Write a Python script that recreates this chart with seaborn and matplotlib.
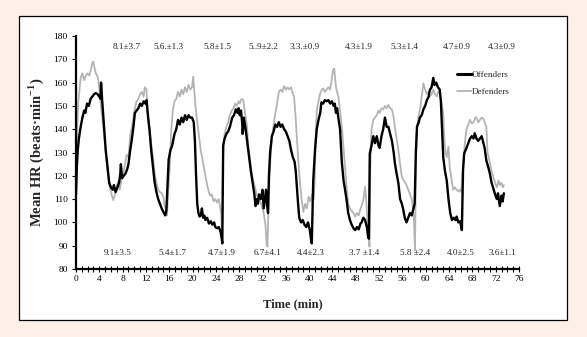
import matplotlib
matplotlib.use("Agg")
import matplotlib.pyplot as plt
import seaborn as sns
import pandas as pd
from matplotlib.patches import Rectangle
from matplotlib.lines import Line2D
from matplotlib.ticker import MultipleLocator

# ---------------- data ----------------
off_time = [0.0, 0.15, 0.3, 0.5, 0.8, 1.1, 1.4, 1.6, 1.9, 2.2, 2.5, 2.8, 3.1, 3.4, 3.7, 4.0, 4.2, 4.3, 4.5, 4.7,
            4.9, 5.1, 5.4, 5.7, 6.0, 6.3, 6.5, 6.8, 7.1, 7.4, 7.6, 7.7, 7.9, 8.2, 8.5, 8.8,
            9.0, 9.3, 9.6, 9.9, 10.1, 10.4, 10.7, 11.0, 11.3, 11.6, 11.9, 12.1, 12.3, 12.6, 12.9, 13.2, 13.5,
            13.8, 14.1, 14.4, 14.7, 15.0, 15.3, 15.5, 15.7, 15.9, 16.2, 16.5, 16.9, 17.2, 17.5, 17.8, 18.1,
            18.4, 18.7, 19.0, 19.3, 19.6, 19.9, 20.2, 20.4, 20.6, 20.8, 21.0, 21.2, 21.4, 21.6, 21.8, 22.0,
            22.2, 22.5, 22.8, 23.1, 23.4, 23.7, 23.9, 24.2, 24.5, 24.8, 25.0, 25.1,
            25.25, 25.5, 25.8, 26.1, 26.4, 26.8, 27.1, 27.4, 27.7, 27.9, 28.1, 28.3, 28.5, 28.6, 28.8, 29.1,
            29.4, 29.7, 30.0, 30.3, 30.6, 30.8, 31.0, 31.2, 31.4, 31.7, 32.0, 32.2, 32.4, 32.6, 32.8, 32.95,
            33.1, 33.3, 33.6, 33.9, 34.2, 34.5, 34.8, 35.1, 35.4, 35.7, 36.0, 36.3, 36.6, 36.9, 37.2, 37.5,
            37.7, 37.9, 38.1, 38.3, 38.6, 38.9, 39.2, 39.5, 39.8, 40.1, 40.3, 40.45,
            40.7, 41.0, 41.3, 41.6, 41.9, 42.1, 42.4, 42.7, 43.0, 43.3, 43.6, 43.9, 44.2, 44.4, 44.6, 44.8,
            45.0, 45.3, 45.6, 45.9, 46.1, 46.4, 46.7, 47.0, 47.3, 47.6, 47.9, 48.2, 48.5, 48.8, 49.0, 49.3,
            49.6, 49.9, 50.1, 50.25,
            50.4, 50.7, 51.0, 51.3, 51.6, 51.9, 52.1, 52.4, 52.7, 53.0, 53.3, 53.6, 53.9, 54.2, 54.5, 54.7,
            55.0, 55.3, 55.6, 55.9, 56.1, 56.4, 56.7, 57.0, 57.3, 57.6, 57.9, 58.1,
            58.3, 58.5, 58.8, 59.0, 59.3, 59.6, 59.9, 60.2, 60.5, 60.7, 61.0, 61.3, 61.5, 61.8, 62.1, 62.4,
            62.6, 62.8, 63.0, 63.3, 63.6, 63.9, 64.2, 64.5, 64.8, 65.1, 65.3, 65.6, 65.9, 66.2,
            66.4, 66.6, 67.0, 67.3, 67.6, 67.9, 68.2, 68.4, 68.7, 69.0, 69.3, 69.6, 69.9, 70.1, 70.4, 70.7,
            71.0, 71.3, 71.6, 71.9, 72.2, 72.4, 72.7, 73.0, 73.2, 73.4]
off_hr = [112, 124, 131, 136, 141, 145, 148, 147, 151, 150, 153, 154, 155, 155.5, 155, 154, 153, 160, 152, 145,
          138, 131, 124, 117, 115, 114, 116, 113, 115, 117, 121, 125, 119, 120, 121, 123,
          125, 131, 136, 142, 147, 148, 149, 151, 150, 152, 151, 152.5, 147, 140, 131, 124, 117,
          113, 110, 108, 106, 104.5, 103, 105, 116, 127, 131, 133, 138, 140, 144, 142, 145,
          143, 146, 144, 146, 145, 145, 143, 135, 120, 108, 104, 102.5, 103, 106, 102, 103,
          101, 102, 99.5, 100.5, 99, 100, 98, 97.5, 98, 96, 93, 91,
          133, 136, 138, 139, 141, 145, 146, 148.5, 147, 149, 146, 148, 143, 138, 145, 140,
          134, 128, 122, 117, 112, 107, 110, 108, 112, 110, 114, 106, 110, 114, 107, 104,
          120, 130, 137, 139, 142, 141, 143, 141, 142, 140, 139, 137, 135, 131, 128, 126,
          122, 115, 108, 102, 100, 101, 99, 98, 100, 97, 93, 91,
          118, 131, 140, 144, 147, 151.5, 151, 152.5, 152, 152.5, 151, 152, 150, 151, 147, 149,
          145, 140, 126, 118, 115, 110, 104, 101, 99, 97.5, 96.7, 98, 97, 99.5, 100, 102,
          101, 98, 94, 93,
          129.6, 133, 137, 134, 137, 133, 132, 137, 140, 145, 141, 141, 138, 135, 130, 125.5,
          121, 117, 110, 108, 106, 102, 100, 102, 104, 103, 106, 108,
          130, 141, 143, 145, 146, 148.5, 150, 152.5, 154, 156.8, 158, 162, 159, 160, 158, 157,
          152, 140, 128, 122, 118, 110, 104, 101, 102, 101, 102.5, 100, 100.5, 96.7,
          122.5, 129.6, 132, 134, 136, 137, 136, 138.3, 136, 135, 136, 137, 134, 132, 126.5, 124,
          121, 117, 114.5, 112, 110, 112.5, 107, 111.5, 109, 112.5]

def_time = [0.0, 0.2, 0.4, 0.6, 0.8, 1.1, 1.4, 1.7, 2.0, 2.3, 2.6, 2.8, 3.0, 3.2, 3.4, 3.7, 3.9, 4.2, 4.5, 4.8,
            5.1, 5.4, 5.7, 6.0, 6.2, 6.4, 6.7, 7.0, 7.3, 7.5, 7.8, 8.1, 8.4, 8.7, 9.0,
            9.3, 9.6, 9.9, 10.2, 10.4, 10.7, 11.0, 11.3, 11.6, 11.8, 12.1, 12.3, 12.6, 12.9, 13.2, 13.5,
            13.8, 14.1, 14.4, 14.7, 15.0, 15.2, 15.5, 15.6, 15.8, 16.1, 16.3, 16.6, 16.9, 17.2, 17.5, 17.8,
            18.1, 18.4, 18.7, 19.0, 19.3, 19.6, 19.9, 20.1, 20.3, 20.5, 20.8, 21.1, 21.4, 21.7, 21.9, 22.2,
            22.5, 22.8, 23.0, 23.3, 23.6, 23.9, 24.2, 24.5, 24.7, 24.9, 25.05,
            25.25, 25.5, 25.8, 26.1, 26.4, 26.7, 27.0, 27.3, 27.6, 27.9, 28.1, 28.4, 28.7, 29.0, 29.3, 29.6,
            29.8, 30.1, 30.4, 30.7, 31.0, 31.3, 31.6, 31.9, 32.2, 32.5, 32.7, 32.85,
            33.05, 33.3, 33.6, 33.9, 34.2, 34.5, 34.8, 35.1, 35.4, 35.7, 36.0, 36.3, 36.6, 36.9, 37.1, 37.4,
            37.6, 37.8, 38.1, 38.4, 38.7, 39.0, 39.3, 39.6, 39.9, 40.2, 40.5, 40.8,
            40.95, 41.1, 41.3, 41.6, 41.9, 42.2, 42.4, 42.7, 43.0, 43.3, 43.6, 43.8, 44.1, 44.3, 44.6, 45.0,
            45.3, 45.6, 45.9, 46.1, 46.4, 46.7, 47.0, 47.3, 47.6, 47.9, 48.2, 48.5, 48.7, 49.0, 49.3, 49.6,
            49.8, 50.1, 50.35,
            50.5, 50.7, 51.0, 51.3, 51.6, 51.9, 52.1, 52.4, 52.7, 53.0, 53.3, 53.6, 53.9, 54.2, 54.5, 54.7,
            55.0, 55.3, 55.6, 55.9, 56.2, 56.5, 56.7, 57.0, 57.3, 57.6, 57.8, 58.0, 58.15,
            58.35, 58.5, 58.8, 59.1, 59.4, 59.6, 59.9, 60.2, 60.5, 60.7, 61.0, 61.3, 61.6, 61.9, 62.1, 62.4,
            62.7, 63.0, 63.2, 63.4, 63.6, 63.9, 64.1, 64.4, 64.7, 65.0, 65.3, 65.6, 65.9, 66.1,
            66.3, 66.5, 66.8, 67.0, 67.3, 67.6, 67.9, 68.2, 68.5, 68.7, 69.0, 69.3, 69.6, 69.9, 70.1, 70.4,
            70.6, 70.8, 71.0, 71.3, 71.6, 71.9, 72.2, 72.5, 72.7, 73.0, 73.2, 73.4]
def_hr = [120, 140, 152, 157, 162, 164, 161, 163, 164, 163, 166, 168.5, 169, 166, 164, 162.5, 160, 152, 145, 138,
          130, 122, 116, 113, 111, 109.6, 112, 116, 118, 114, 118, 121, 125, 129, 128,
          137, 141, 146, 150, 152, 153, 155, 156, 154, 158, 157, 145, 140, 134, 128, 121,
          117, 114, 113, 112.5, 111, 107, 105, 103, 112, 125, 138, 148, 152, 153, 156, 154,
          157, 155, 158, 156, 159, 157, 158, 162.5, 156, 150, 143, 137, 131, 127, 124, 120,
          116, 113, 111.5, 112, 109, 110, 108.5, 110, 107, 104, 96.7,
          131, 138, 141, 143, 146, 148, 149, 151, 150, 152, 151, 153, 152.5, 147, 142, 132,
          128, 122, 118, 115, 112, 110, 109, 106.7, 104, 99, 91, 89.6,
          110, 125, 136, 142, 147, 151, 156, 157, 156, 158.5, 157, 158, 157, 158, 156, 154,
          148, 140, 128, 118, 110, 104.5, 108, 106, 111, 109, 112, 110,
          118, 134, 148, 152, 155.4, 157, 157.5, 156, 157, 158, 157, 160, 165.4, 166, 158, 154,
          148, 141, 132, 125.5, 116, 108, 106, 105, 104, 102.5, 104, 103, 105, 107, 109.6, 115.3,
          109, 96.7, 89.6,
          125, 140, 144, 145, 146, 148, 147, 149, 148.5, 150, 149, 150.4, 149, 148.5, 145, 141,
          136, 131, 125, 119.6, 118, 117, 116, 114, 112, 110, 106, 100, 88,
          130, 141, 146, 150, 156, 159.7, 157, 155, 156, 154, 155, 157, 155, 154, 156, 155.5,
          151, 147, 135, 130, 128, 132.5, 124, 119, 114, 115, 114, 113.3, 114, 113,
          120, 128, 136, 140, 142, 144, 142.5, 143, 145, 145, 143, 144, 145, 144.5, 143, 141,
          130, 128, 125.5, 122, 119.6, 117, 115, 118, 116, 117, 115, 116]

top_labels = ["8.1\u00b13.7", "5.6.\u00b11.3", "5.8\u00b11.5", "5..9\u00b12.2", "3.3.\u00b10.9",
              "4.3\u00b11.9", "5.3\u00b11.4", "4.7\u00b10.9", "4.3\u00b10.9"]
top_pos = [8.6, 15.8, 24.3, 32.2, 39.3, 48.5, 56.4, 65.3, 73.1]
bottom_labels = ["9.1\u00b13.5", "5.4\u00b11.7", "4.7\u00b11.9", "6.7\u00b14.1", "4.4\u00b12.3",
                 "3.7 \u00b11.4", "5.8 \u00b12.4", "4.0\u00b12.5", "3.6\u00b11.1"]
bottom_pos = [7.2, 16.5, 25.0, 32.8, 40.3, 49.5, 58.2, 66.0, 73.1]

series_names = ["Offenders", "Defenders"]
series_colors = ["#000000", "#b4b4b4"]

# ---------------- style ----------------
sns.set_style("white")
plt.rcParams["font.family"] = ["Liberation Serif", "DejaVu Serif"]
plt.rcParams["mathtext.fontset"] = "custom"
plt.rcParams["mathtext.rm"] = "Liberation Serif:bold"
plt.rcParams["mathtext.bf"] = "Liberation Serif:bold"

fig = plt.figure(figsize=(5.87, 3.37), dpi=100)
fig.patch.set_facecolor("#fdf0e6")
fig.add_artist(Rectangle((19 / 587, 1 - 320 / 337), (567 - 19) / 587, (320 - 16) / 337,
                         transform=fig.transFigure, facecolor="white", edgecolor="black",
                         linewidth=0.9, zorder=0))

ax = fig.add_axes([76 / 587, 1 - 269 / 337, (519 - 76) / 587, (269 - 36) / 337])
ax.set_facecolor("none")

df_off = pd.DataFrame({"t": off_time, "hr": off_hr})
df_def = pd.DataFrame({"t": def_time, "hr": def_hr})

sns.lineplot(data=df_def, x="t", y="hr", color=series_colors[1], linewidth=1.3, ax=ax,
             sort=False, estimator=None, zorder=2)
sns.lineplot(data=df_off, x="t", y="hr", color=series_colors[0], linewidth=1.7, ax=ax,
             sort=False, estimator=None, zorder=3)

ax.set_xlim(0, 76)
ax.set_ylim(80, 180)
ax.xaxis.set_major_locator(MultipleLocator(4))
ax.xaxis.set_minor_locator(MultipleLocator(1))
ax.yaxis.set_major_locator(MultipleLocator(10))

for s in ["top", "right"]:
    ax.spines[s].set_visible(False)
for s in ["left", "bottom"]:
    ax.spines[s].set_linewidth(1.6)
    ax.spines[s].set_color("black")

ax.tick_params(axis="x", which="both", direction="inout", length=4, width=0.8,
               colors="black", labelsize=6.8, pad=2)
ax.tick_params(axis="y", which="major", direction="out", length=3, width=0.8,
               colors="black", labelsize=6.8, pad=3)
ax.yaxis.set_ticks_position("left")
ax.xaxis.set_ticks_position("bottom")

ax.set_xlabel("Time (min)", fontsize=9, fontweight="bold")
ax.set_ylabel("Mean HR (beats\u00b7min$^{-1}$)", fontsize=10.5, fontweight="bold")
ax.xaxis.set_label_coords(0.49, -0.125)
ax.yaxis.set_label_coords(-0.068, 0.5)

for lab, x in zip(top_labels, top_pos):
    ax.text(x, 175.3, lab, ha="center", va="center", fontsize=6.6, color="#222222")
for lab, x in zip(bottom_labels, bottom_pos):
    ax.text(x, 86.9, lab, ha="center", va="center", fontsize=6.6, color="#222222")

handles = [Line2D([0], [0], color=series_colors[0], linewidth=2.2),
           Line2D([0], [0], color=series_colors[1], linewidth=1.3)]
ax.legend(handles, series_names, loc="upper left", bbox_to_anchor=(0.85, 0.87),
          frameon=False, fontsize=6.6, handlelength=1.6, handletextpad=0.0,
          labelspacing=0.9, borderpad=0)

fig.savefig("out.png", dpi=100, facecolor=fig.get_facecolor())
